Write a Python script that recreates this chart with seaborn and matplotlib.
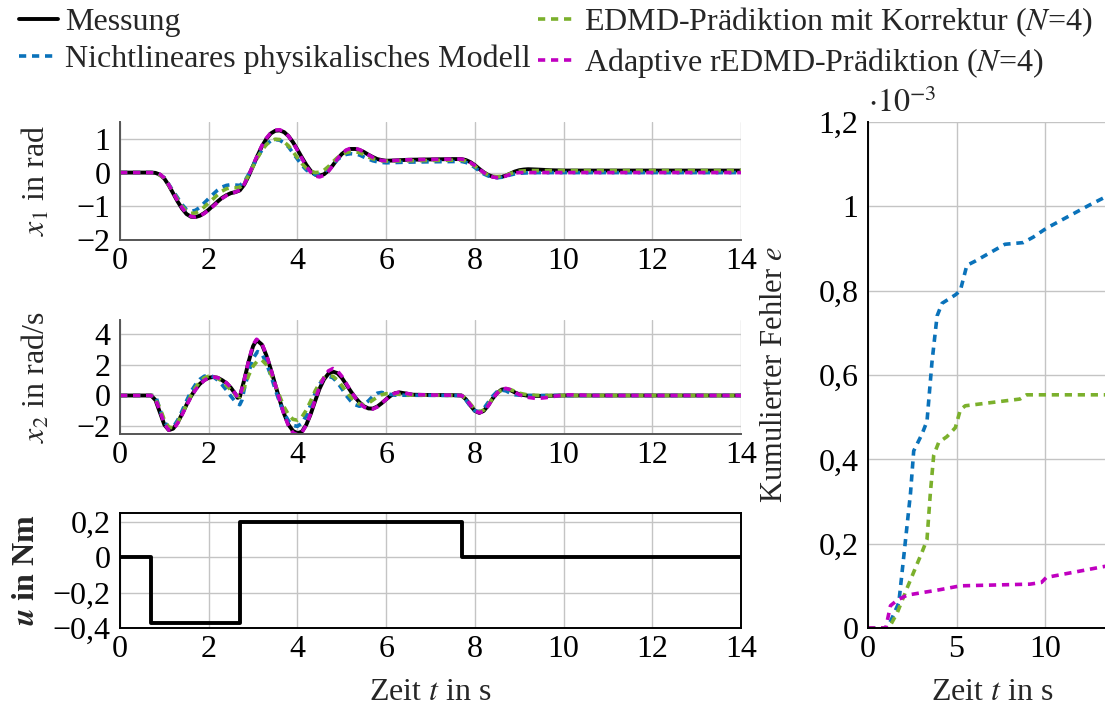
import numpy as np
import pandas as pd
import matplotlib
matplotlib.use("Agg")
import matplotlib.pyplot as plt
from matplotlib.lines import Line2D
from matplotlib.ticker import FuncFormatter, MultipleLocator
import seaborn as sns

# ---------------- data ----------------
# x1 (angle) in rad
t_x1_mess = [0, 0.7, 0.8, 0.9, 1.0, 1.1, 1.2, 1.3, 1.4, 1.5, 1.6, 1.7, 1.8, 1.9, 2.0, 2.1, 2.2, 2.3, 2.4, 2.5,
             2.6, 2.7, 2.8, 2.9, 3.0, 3.1, 3.2, 3.3, 3.4, 3.5, 3.6, 3.7, 3.8, 3.9, 4.0, 4.1, 4.2, 4.3, 4.4, 4.5,
             4.6, 4.7, 4.8, 4.9, 5.0, 5.1, 5.2, 5.3, 5.4, 5.5, 5.6, 5.7, 5.8, 5.9, 6.0, 6.2, 6.5, 7.0, 7.5, 7.7,
             7.8, 7.9, 8.0, 8.1, 8.2, 8.3, 8.4, 8.5, 8.6, 8.7, 8.8, 8.9, 9.0, 9.1, 9.2, 9.4, 9.7, 10.0, 14.0]
x1_mess = [0, 0, -0.01, -0.06, -0.18, -0.38, -0.62, -0.86, -1.07, -1.23, -1.31, -1.32, -1.28, -1.20, -1.10, -0.98,
           -0.86, -0.75, -0.67, -0.61, -0.58, -0.53, -0.36, -0.10, 0.20, 0.50, 0.78, 1.00, 1.16, 1.24, 1.25, 1.20,
           1.08, 0.90, 0.68, 0.45, 0.23, 0.05, -0.06, -0.09, -0.05, 0.06, 0.22, 0.40, 0.55, 0.65, 0.70, 0.70, 0.67,
           0.61, 0.53, 0.46, 0.40, 0.37, 0.35, 0.36, 0.38, 0.39, 0.40, 0.40, 0.37, 0.31, 0.22, 0.11, 0.01, -0.07,
           -0.12, -0.14, -0.13, -0.09, -0.03, 0.03, 0.07, 0.09, 0.10, 0.09, 0.07, 0.06, 0.06]

t_x1_phys = [0, 0.8, 1.0, 1.2, 1.4, 1.5, 1.6, 1.7, 1.8, 1.9, 2.0, 2.1, 2.2, 2.3, 2.4, 2.5, 2.6, 2.7, 2.8, 2.9,
             3.0, 3.1, 3.2, 3.3, 3.4, 3.5, 3.6, 3.7, 3.8, 3.9, 4.0, 4.1, 4.2, 4.3, 4.4, 4.5, 4.6, 4.7, 4.8, 4.9,
             5.0, 5.1, 5.2, 5.3, 5.4, 5.5, 5.6, 5.7, 5.8, 5.9, 6.0, 6.5, 7.0, 7.7, 7.8, 7.9, 8.0, 8.1, 8.2, 8.3,
             8.4, 8.5, 8.6, 8.7, 8.8, 8.9, 9.0, 9.3, 14.0]
x1_phys = [0, 0, -0.15, -0.55, -0.95, -1.10, -1.15, -1.12, -1.03, -0.90, -0.77, -0.64, -0.52, -0.43, -0.38, -0.36,
           -0.37, -0.38, -0.28, -0.05, 0.20, 0.45, 0.67, 0.84, 0.94, 0.98, 0.96, 0.88, 0.76, 0.58, 0.40, 0.22, 0.08,
           -0.02, -0.06, -0.05, 0.01, 0.12, 0.26, 0.38, 0.48, 0.54, 0.56, 0.55, 0.52, 0.46, 0.40, 0.35, 0.32, 0.30,
           0.29, 0.31, 0.32, 0.33, 0.30, 0.24, 0.15, 0.05, -0.04, -0.10, -0.14, -0.15, -0.14, -0.11, -0.07, -0.04,
           -0.02, 0.0, 0.0]

t_x1_edmd = [0, 0.8, 1.0, 1.2, 1.4, 1.5, 1.6, 1.7, 1.8, 1.9, 2.0, 2.1, 2.2, 2.3, 2.4, 2.5, 2.6, 2.7, 2.8, 2.9,
             3.0, 3.1, 3.2, 3.3, 3.4, 3.5, 3.6, 3.7, 3.8, 3.9, 4.0, 4.1, 4.2, 4.3, 4.4, 4.5, 4.6, 4.7, 4.8, 4.9,
             5.0, 5.1, 5.2, 5.3, 5.4, 5.5, 5.6, 5.7, 5.8, 5.9, 6.0, 6.5, 7.0, 7.7, 7.8, 7.9, 8.0, 8.1, 8.2, 8.3,
             8.4, 8.5, 8.6, 8.7, 8.8, 8.9, 9.0, 9.2, 9.5, 14.0]
x1_edmd = [0, 0, -0.16, -0.58, -1.00, -1.15, -1.21, -1.20, -1.13, -1.02, -0.90, -0.78, -0.66, -0.55, -0.48, -0.45,
           -0.45, -0.44, -0.32, -0.08, 0.18, 0.44, 0.66, 0.83, 0.94, 0.99, 0.98, 0.91, 0.79, 0.62, 0.44, 0.27, 0.13,
           0.04, 0.00, 0.01, 0.07, 0.18, 0.32, 0.44, 0.53, 0.59, 0.62, 0.62, 0.59, 0.53, 0.46, 0.41, 0.37, 0.35,
           0.34, 0.35, 0.36, 0.37, 0.34, 0.28, 0.19, 0.09, 0.00, -0.07, -0.11, -0.12, -0.11, -0.08, -0.03, 0.01,
           0.04, 0.06, 0.06, 0.06]

t_x1_radapt = [0, 0.7, 0.8, 0.9, 1.0, 1.1, 1.2, 1.3, 1.4, 1.5, 1.6, 1.7, 1.8, 1.9, 2.0, 2.1, 2.2, 2.3, 2.4, 2.5,
               2.6, 2.7, 2.8, 2.9, 3.0, 3.1, 3.2, 3.3, 3.4, 3.5, 3.6, 3.7, 3.8, 3.9, 4.0, 4.1, 4.2, 4.3, 4.4, 4.5,
               4.6, 4.7, 4.8, 4.9, 5.0, 5.1, 5.2, 5.3, 5.4, 5.5, 5.6, 5.7, 5.8, 5.9, 6.0, 6.2, 6.5, 7.0, 7.5, 7.7,
               7.8, 7.9, 8.0, 8.1, 8.2, 8.3, 8.4, 8.5, 8.6, 8.7, 8.8, 8.9, 9.0, 9.2, 9.5, 14.0]
x1_radapt = [0, 0, -0.01, -0.05, -0.16, -0.36, -0.60, -0.84, -1.05, -1.21, -1.30, -1.32, -1.29, -1.21, -1.11,
             -1.00, -0.88, -0.77, -0.68, -0.62, -0.58, -0.52, -0.35, -0.08, 0.22, 0.52, 0.80, 1.02, 1.18, 1.26,
             1.27, 1.21, 1.08, 0.89, 0.66, 0.42, 0.19, 0.01, -0.10, -0.13, -0.08, 0.04, 0.21, 0.40, 0.56, 0.67,
             0.72, 0.72, 0.68, 0.61, 0.53, 0.45, 0.39, 0.36, 0.35, 0.36, 0.38, 0.39, 0.40, 0.40, 0.37, 0.30, 0.21,
             0.10, 0.00, -0.08, -0.13, -0.15, -0.14, -0.10, -0.05, -0.01, 0.0, 0.0, 0.0, 0.0]

# x2 (angular velocity) in rad/s
t_x2_mess = [0, 0.7, 0.8, 0.9, 1.0, 1.1, 1.2, 1.3, 1.4, 1.5, 1.6, 1.7, 1.8, 1.9, 2.0, 2.1, 2.2, 2.3, 2.4, 2.5,
             2.6, 2.65, 2.7, 2.8, 2.9, 3.0, 3.08, 3.2, 3.3, 3.4, 3.5, 3.6, 3.7, 3.8, 3.9, 4.0, 4.1, 4.2, 4.3, 4.4,
             4.5, 4.6, 4.7, 4.8, 4.9, 5.0, 5.1, 5.2, 5.3, 5.4, 5.5, 5.6, 5.7, 5.8, 5.9, 6.0, 6.1, 6.2, 6.3, 6.4,
             6.6, 7.0, 7.5, 7.7, 7.8, 7.9, 8.0, 8.1, 8.2, 8.3, 8.4, 8.5, 8.6, 8.7, 8.8, 8.9, 9.0, 9.2, 9.5, 10.0,
             14.0]
x2_mess = [0, 0, -0.30, -1.10, -1.90, -2.25, -2.15, -1.75, -1.20, -0.60, -0.05, 0.40, 0.75, 1.00, 1.15, 1.20, 1.15,
           1.00, 0.80, 0.50, 0.10, -0.15, -0.10, 1.00, 2.20, 3.20, 3.60, 3.30, 2.60, 1.70, 0.70, -0.30, -1.20, -1.90,
           -2.30, -2.45, -2.35, -1.90, -1.20, -0.35, 0.45, 1.05, 1.42, 1.55, 1.45, 1.15, 0.72, 0.28, -0.12, -0.45,
           -0.70, -0.84, -0.85, -0.72, -0.50, -0.25, -0.02, 0.15, 0.20, 0.15, 0.05, 0.03, 0.02, 0.0, -0.25, -0.65,
           -1.00, -1.13, -1.00, -0.65, -0.20, 0.15, 0.38, 0.43, 0.35, 0.20, 0.08, -0.02, -0.03, 0.0, 0.0]

t_x2_phys = [0, 0.8, 0.9, 1.0, 1.1, 1.2, 1.3, 1.4, 1.5, 1.6, 1.7, 1.8, 1.9, 2.0, 2.1, 2.2, 2.3, 2.4, 2.5, 2.6,
             2.7, 2.75, 2.8, 2.9, 3.0, 3.1, 3.2, 3.3, 3.4, 3.5, 3.6, 3.7, 3.8, 3.9, 4.0, 4.1, 4.2, 4.3, 4.4, 4.5,
             4.6, 4.7, 4.8, 4.9, 5.0, 5.1, 5.2, 5.3, 5.4, 5.5, 5.6, 5.7, 5.8, 5.9, 6.0, 6.2, 7.7, 7.8, 7.9, 8.0,
             8.1, 8.2, 8.3, 8.4, 8.5, 8.6, 8.7, 8.8, 8.9, 9.1, 14.0]
x2_phys = [0, 0, -0.90, -1.70, -2.10, -2.05, -1.60, -1.00, -0.35, 0.25, 0.70, 1.05, 1.25, 1.30, 1.22, 1.00, 0.70,
           0.35, -0.05, -0.40, -0.60, -0.30, 0.40, 1.50, 2.40, 2.85, 2.70, 2.10, 1.30, 0.40, -0.45, -1.15, -1.65,
           -1.95, -2.00, -1.80, -1.30, -0.60, 0.15, 0.75, 1.10, 1.25, 1.15, 0.85, 0.45, 0.00, -0.35, -0.60, -0.70,
           -0.60, -0.35, -0.05, 0.15, 0.20, 0.12, 0.02, 0.0, -0.30, -0.70, -1.00, -1.05, -0.85, -0.45, -0.05, 0.25,
           0.35, 0.30, 0.15, 0.05, 0.0, 0.0]

t_x2_edmd = [0, 0.75, 0.9, 1.0, 1.1, 1.2, 1.3, 1.4, 1.5, 1.6, 1.7, 1.8, 1.9, 2.0, 2.1, 2.2, 2.3, 2.4, 2.5, 2.6,
             2.7, 2.8, 2.9, 3.0, 3.1, 3.2, 3.3, 3.4, 3.5, 3.6, 3.7, 3.8, 3.9, 4.0, 4.1, 4.2, 4.3, 4.4, 4.5, 4.6,
             4.7, 4.8, 4.9, 5.0, 5.1, 5.2, 5.3, 5.4, 5.5, 5.6, 5.7, 5.8, 5.9, 6.0, 6.2, 6.5, 7.7, 7.8, 7.9, 8.0,
             8.1, 8.2, 8.3, 8.4, 8.5, 8.6, 8.7, 8.8, 8.9, 9.0, 9.2, 9.5, 14.0]
x2_edmd = [0, 0, -0.80, -1.60, -2.05, -2.10, -1.75, -1.20, -0.60, 0.0, 0.50, 0.90, 1.15, 1.25, 1.25, 1.12, 0.92,
           0.65, 0.35, 0.05, -0.10, 0.50, 1.30, 1.90, 2.25, 2.30, 2.00, 1.40, 0.70, -0.05, -0.75, -1.25, -1.55,
           -1.60, -1.40, -0.95, -0.35, 0.30, 0.80, 1.15, 1.30, 1.25, 1.00, 0.65, 0.25, -0.10, -0.40, -0.55, -0.60,
           -0.50, -0.30, -0.10, 0.05, 0.12, 0.10, 0.03, 0.0, -0.20, -0.55, -0.90, -1.05, -0.95, -0.60, -0.20, 0.15,
           0.35, 0.42, 0.38, 0.28, 0.15, 0.03, 0.0, 0.0]

t_x2_radapt = [0, 0.7, 0.8, 0.9, 1.0, 1.1, 1.2, 1.3, 1.4, 1.5, 1.6, 1.7, 1.8, 1.9, 2.0, 2.1, 2.2, 2.3, 2.4, 2.5,
               2.6, 2.65, 2.7, 2.8, 2.9, 3.0, 3.08, 3.2, 3.3, 3.4, 3.5, 3.6, 3.7, 3.8, 3.9, 4.0, 4.1, 4.2, 4.3, 4.4,
               4.5, 4.6, 4.7, 4.8, 4.9, 5.0, 5.1, 5.2, 5.3, 5.4, 5.5, 5.6, 5.7, 5.8, 5.9, 6.0, 6.1, 6.2, 6.3, 6.4,
               6.6, 7.0, 7.5, 7.7, 7.8, 7.9, 8.0, 8.1, 8.2, 8.3, 8.4, 8.5, 8.6, 8.7, 8.8, 8.9, 9.0, 9.2, 9.4, 9.6,
               9.8, 10.0, 10.3, 10.6, 14.0]
x2_radapt = [0, 0, -0.25, -1.00, -1.85, -2.25, -2.20, -1.80, -1.25, -0.65, -0.10, 0.35, 0.72, 0.98, 1.15, 1.20,
             1.16, 1.02, 0.82, 0.52, 0.12, -0.12, -0.08, 1.00, 2.25, 3.30, 3.65, 3.35, 2.65, 1.72, 0.70, -0.32,
             -1.25, -1.98, -2.42, -2.55, -2.40, -1.92, -1.15, -0.28, 0.55, 1.18, 1.60, 1.75, 1.60, 1.25, 0.78, 0.30,
             -0.12, -0.48, -0.74, -0.88, -0.88, -0.74, -0.50, -0.25, -0.02, 0.15, 0.22, 0.17, 0.06, 0.03, 0.02,
             0.0, -0.22, -0.62, -0.98, -1.12, -1.02, -0.68, -0.22, 0.15, 0.40, 0.46, 0.38, 0.22, 0.05, -0.12,
             -0.20, -0.14, -0.05, 0.04, 0.04, 0.0, 0.0]

# input torque in Nm (piecewise constant)
t_u = [0, 0.7, 2.7, 7.7, 14.0]
u_val = [0, -0.37, 0.20, 0, 0]

# cumulative error
t_e_phys = [0, 1.1, 1.37, 1.74, 2.02, 2.40, 2.58, 3.05, 3.33, 3.61, 3.90, 4.18, 4.93, 5.21, 5.58, 6.05, 7.73,
            8.76, 9.33, 10.07, 12.5, 14.0]
e_phys = [0, 0, 0.025e-3, 0.06e-3, 0.17e-3, 0.32e-3, 0.42e-3, 0.46e-3, 0.49e-3, 0.63e-3, 0.74e-3, 0.77e-3,
          0.79e-3, 0.80e-3, 0.86e-3, 0.87e-3, 0.91e-3, 0.914e-3, 0.927e-3, 0.948e-3, 1.003e-3, 1.035e-3]

t_e_edmd = [0, 1.18, 1.65, 2.21, 3.05, 3.33, 3.52, 3.71, 3.99, 4.46, 4.93, 5.21, 5.49, 8.58, 8.95, 14.0]
e_edmd = [0, 0, 0.036e-3, 0.095e-3, 0.18e-3, 0.21e-3, 0.32e-3, 0.41e-3, 0.44e-3, 0.454e-3, 0.475e-3, 0.517e-3,
          0.527e-3, 0.543e-3, 0.553e-3, 0.553e-3]

t_e_radapt = [0, 1.0, 1.27, 1.65, 2.21, 4.08, 5.21, 9.14, 9.79, 10.07, 13.35, 14.0]
e_radapt = [0, 0, 0.053e-3, 0.066e-3, 0.078e-3, 0.091e-3, 0.100e-3, 0.104e-3, 0.108e-3, 0.120e-3, 0.146e-3,
            0.150e-3]

labels = ["Messung", "Nichtlineares physikalisches Modell",
          "EDMD-Prädiktion mit Korrektur ($N$=4)", "Adaptive rEDMD-Prädiktion ($N$=4)"]
colors = ["black", "#0a72ba", "#7bb02c", "#c000c0"]

# ---------------- style ----------------
sns.set_theme(style="whitegrid")
plt.rcParams["font.family"] = ["Liberation Serif", "DejaVu Serif"]
plt.rcParams["mathtext.fontset"] = "stix"
plt.rcParams["axes.unicode_minus"] = True
FS = 23

DASH = (0, (2.0, 1.6))
LW_SOLID = 2.8
LW_DASH = 2.6
GRID_C = "#c4c4c4"
TICK_C = "#777777"

fig = plt.figure(figsize=(11.05, 7.11), dpi=100)
fig.patch.set_facecolor("white")

W = 1105.0
H = 711.0


def px_axes(x0, y0, x1, y1):
    return fig.add_axes([x0 / W, 1 - y1 / H, (x1 - x0) / W, (y1 - y0) / H])


ax1 = px_axes(120, 122, 741, 240)
ax2 = px_axes(120, 320, 741, 434)
ax3 = px_axes(120, 513, 741, 628)
ax4 = px_axes(868, 122, 1116, 628)


def style_axes(ax, box=False, spine_color="#555555"):
    ax.set_facecolor("white")
    ax.grid(True, color=GRID_C, lw=1.0)
    for side in ["top", "right"]:
        ax.spines[side].set_visible(box)
    for s in ax.spines.values():
        s.set_color(spine_color if not box else "black")
        s.set_linewidth(1.4)
    ax.tick_params(axis="both", direction="in", length=7, width=1.0, color=TICK_C,
                   labelsize=FS, labelcolor="black")
    ax.tick_params(axis="y", pad=7)
    ax.tick_params(axis="x", pad=5)


def draw(ax, t, v, color, solid=False, **kw):
    df = pd.DataFrame({"t": t, "v": v})
    if solid:
        sns.lineplot(data=df, x="t", y="v", ax=ax, color=color, lw=LW_SOLID, estimator=None,
                     sort=False, **kw)
    else:
        sns.lineplot(data=df, x="t", y="v", ax=ax, color=color, lw=LW_DASH, estimator=None,
                     sort=False, linestyle=DASH, **kw)


# x1
draw(ax1, t_x1_mess, x1_mess, colors[0], solid=True)
draw(ax1, t_x1_phys, x1_phys, colors[1])
draw(ax1, t_x1_edmd, x1_edmd, colors[2])
draw(ax1, t_x1_radapt, x1_radapt, colors[3])
ax1.set_ylim(-2, 1.5)
ax1.set_yticks([-2, -1, 0, 1])

# x2
draw(ax2, t_x2_mess, x2_mess, colors[0], solid=True)
draw(ax2, t_x2_phys, x2_phys, colors[1])
draw(ax2, t_x2_edmd, x2_edmd, colors[2])
draw(ax2, t_x2_radapt, x2_radapt, colors[3])
ax2.set_ylim(-2.5, 4.9)
ax2.set_yticks([-2, 0, 2, 4])

# u
draw(ax3, t_u, u_val, colors[0], solid=True, drawstyle="steps-post")
ax3.set_ylim(-0.39, 0.25)
ax3.set_yticks([-0.4, -0.2, 0, 0.2])
ax3.yaxis.set_major_formatter(FuncFormatter(
    lambda v, p: ("\u2212" if v < -1e-9 else "") + f"{abs(v):g}".replace(".", ",")))

for ax in (ax1, ax2, ax3):
    ax.set_xlim(0, 14)
    ax.xaxis.set_major_locator(MultipleLocator(2))
    ax.set_xlabel("")

style_axes(ax1)
style_axes(ax2)
style_axes(ax3, box=True)

ax1.set_ylabel("$x_1$ in rad", fontsize=FS)
ax2.set_ylabel("$x_2$ in rad/s", fontsize=FS)
ax3.set_ylabel(r"$\mathbfit{u}$ in Nm", fontsize=FS, fontweight="bold")
ax1.yaxis.set_label_coords(-0.11, 0.5)
ax2.yaxis.set_label_coords(-0.11, 0.5)
ax3.yaxis.set_label_coords(-0.127, 0.5)
ax3.set_xlabel("Zeit $t$ in s", fontsize=FS, labelpad=10)

# cumulative error
draw(ax4, t_e_phys, e_phys, colors[1])
draw(ax4, t_e_edmd, e_edmd, colors[2])
draw(ax4, t_e_radapt, e_radapt, colors[3])
ax4.set_xlim(0, 14)
ax4.set_ylim(0, 1.2e-3)
ax4.xaxis.set_major_locator(MultipleLocator(5))
ax4.set_yticks(np.arange(0, 1.21e-3, 0.2e-3))
ax4.yaxis.set_major_formatter(FuncFormatter(
    lambda v, p: f"{round(v * 1e3, 1):g}".replace(".", ",")))
style_axes(ax4, spine_color="black")
ax4.set_xlabel("Zeit $t$ in s", fontsize=FS, labelpad=10)
ax4.set_ylabel("Kumulierter Fehler $e$", fontsize=FS - 1)
ax4.yaxis.set_label_coords(-0.32, 0.5)
ax4.text(0.0, 1.005, r"$\cdot 10^{-3}$", transform=ax4.transAxes, fontsize=FS,
         ha="left", va="bottom")

# legend
handles = [
    Line2D([], [], color=colors[0], lw=LW_SOLID),
    Line2D([], [], color=colors[1], lw=LW_DASH, linestyle=DASH),
    Line2D([], [], color=colors[2], lw=LW_DASH, linestyle=DASH),
    Line2D([], [], color=colors[3], lw=LW_DASH, linestyle=DASH),
]
fig.legend(handles, labels, loc="upper left", bbox_to_anchor=(0.0, 1.02), ncol=2,
           frameon=False, fontsize=FS, handlelength=1.2, handletextpad=0.25,
           columnspacing=0.2, labelspacing=0.25, borderaxespad=0.2)

fig.savefig("out.png", dpi=100, facecolor="white")
